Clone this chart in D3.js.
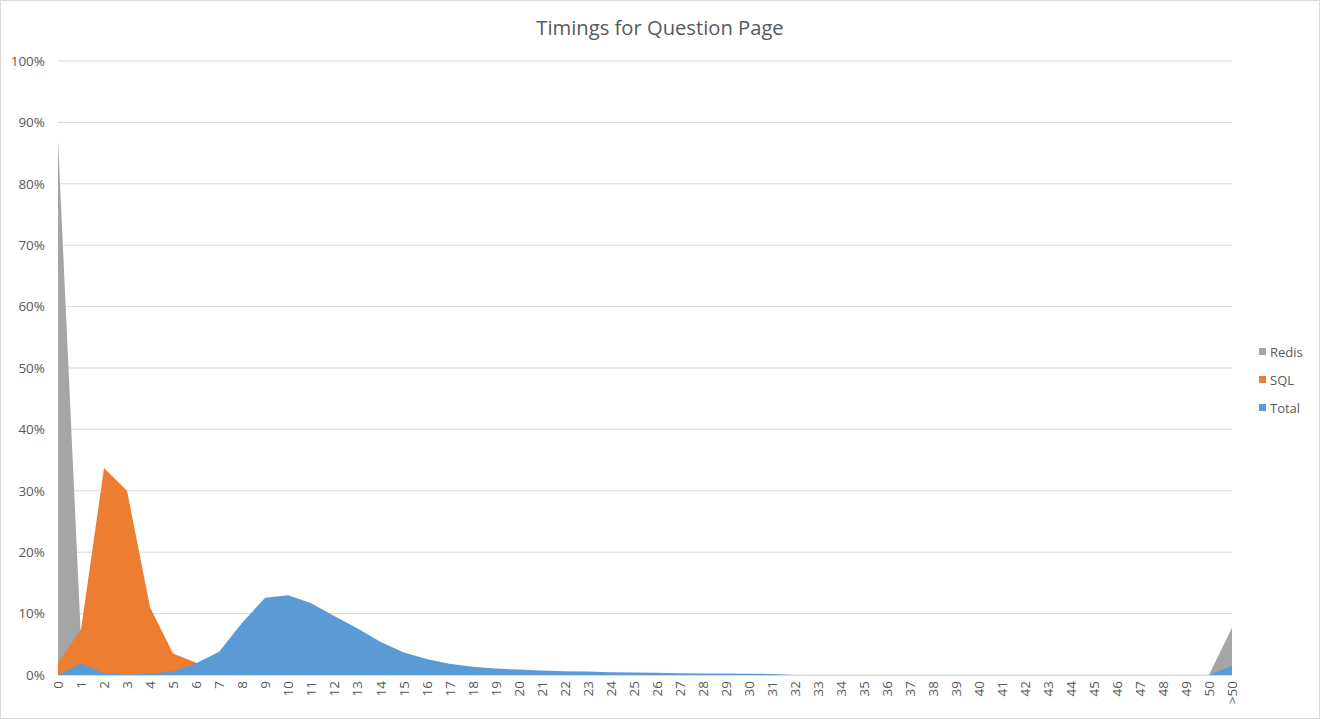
<!DOCTYPE html>
<html><head><meta charset="utf-8">
<script src="https://cdn.jsdelivr.net/npm/d3@7"></script>
<style>body{margin:0;background:#fff}svg{display:block}</style>
</head><body>
<script>
const categories = ["0","1","2","3","4","5","6","7","8","9","10","11","12","13","14","15","16","17","18","19","20","21","22","23","24","25","26","27","28","29","30","31","32","33","34","35","36","37","38","39","40","41","42","43","44","45","46","47","48","49","50",">50"];
const redis = [87.2,5.6,0.6,0.2,0.1,0,0,0,0,0,0,0,0,0,0,0,0,0,0,0,0,0,0,0,0,0,0,0,0,0,0,0,0,0,0,0,0,0,0,0,0,0,0,0,0,0,0,0,0,0,0,7.7];
const sql = [2.0,7.4,33.7,30.0,11.0,3.5,2.0,1.0,0.5,0.3,0.2,0.1,0.1,0,0,0,0,0,0,0,0,0,0,0,0,0,0,0,0,0,0,0,0,0,0,0,0,0,0,0,0,0,0,0,0,0,0,0,0,0,0,0];
const total = [0,1.9,0.3,0.1,0.2,0.6,1.9,3.8,8.5,12.6,13.0,11.7,9.6,7.6,5.4,3.7,2.6,1.85,1.35,1.05,0.88,0.75,0.62,0.55,0.45,0.4,0.36,0.3,0.26,0.23,0.2,0.18,0.02,0,0,0,0,0,0,0,0,0,0,0,0,0,0,0,0,0,0,1.5];
const yTicks = [0,10,20,30,40,50,60,70,80,90,100];
const seriesNames = ["Redis","SQL","Total"];
const colors = ["#A5A5A5","#ED7D31","#5B9BD5"];

const W = 1320, H = 719;
const svg = d3.select("body").append("svg").attr("width", W).attr("height", H);
svg.append("rect").attr("x",0.5).attr("y",0.5).attr("width",W-1).attr("height",H-1)
  .attr("fill","#fff").attr("stroke","#D9D9D9");

const x = d3.scalePoint().domain(categories).range([58, 1232]);
const y = d3.scaleLinear().domain([0,100]).range([675, 61]);

svg.append("text").attr("x", 660).attr("y", 35).attr("text-anchor","middle")
  .attr("font-family","'Open Sans', sans-serif").attr("font-size", 20.2).attr("fill","#595959")
  .text("Timings for Question Page");

// gridlines
svg.append("g").selectAll("line").data(yTicks).join("line")
  .attr("x1",58).attr("x2",1232).attr("y1",d=>y(d)).attr("y2",d=>y(d))
  .attr("stroke","#D9D9D9").attr("stroke-width",1);

// y axis labels
const yAxis = d3.axisLeft(y).tickValues(yTicks).tickFormat(d=>d+"%").tickSize(0).tickPadding(0);
const gy = svg.append("g").attr("transform","translate(45,0)").call(yAxis);
gy.select(".domain").remove();
gy.selectAll("text").attr("font-family","'Open Sans', sans-serif").attr("font-size",13.5).attr("fill","#595959");

// areas
const data = [redis, sql, total];
const area = d3.area().x((d,i)=>x(categories[i])).y0(y(0)).y1(d=>y(d));
svg.append("g").selectAll("path").data(data).join("path")
  .attr("d", area).attr("fill",(d,i)=>colors[i]);

// x axis
const xAxis = d3.axisBottom(x).tickSize(0).tickPadding(0);
const gx = svg.append("g").attr("transform","translate(0,675)").call(xAxis);
gx.select(".domain").attr("stroke","#D9D9D9");
gx.selectAll("text").attr("font-family","'Open Sans', sans-serif").attr("font-size",13.5).attr("fill","#595959")
  .attr("text-anchor","end").attr("transform","rotate(-90)").attr("dy","0.35em").attr("x",-6).attr("y",0);

// legend
const lg = svg.append("g").selectAll("g").data(seriesNames).join("g")
  .attr("transform",(d,i)=>`translate(1259,${352+i*28})`);
lg.append("rect").attr("x",0).attr("y",-4).attr("width",7).attr("height",7).attr("fill",(d,i)=>colors[i]);
lg.append("text").attr("x",11).attr("y",0).attr("dy","0.35em")
  .attr("font-family","'Open Sans', sans-serif").attr("font-size",13).attr("fill","#595959").text(d=>d);
</script>
</body></html>
